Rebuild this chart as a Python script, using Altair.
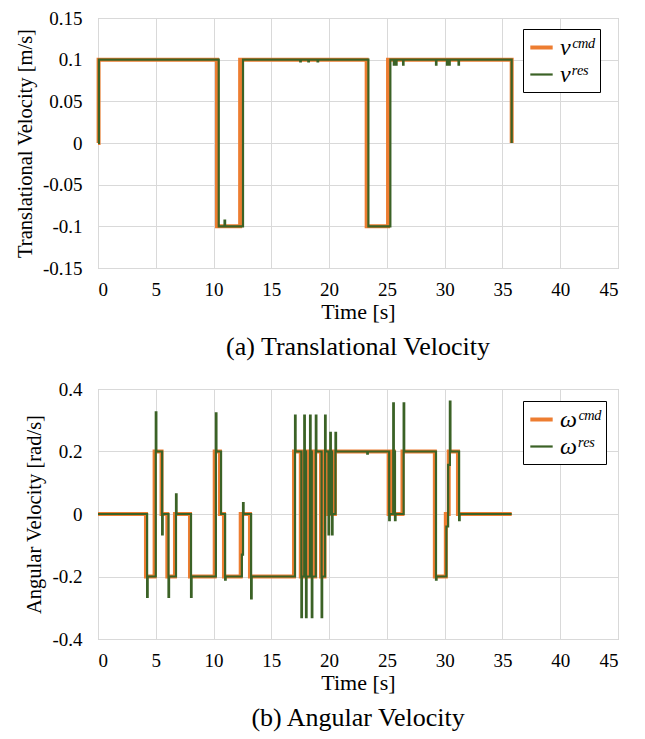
import altair as alt
import pandas as pd

# ---------- (a) Translational velocity ----------
v_cmd_t = [0, 0.05, 10.3, 12.3, 23.25, 25.1, 35.8]
v_cmd_v = [0, 0.1, -0.1, 0.1, -0.1, 0.1, 0]

v_res_t = [0, 0.08, 10.45, 10.95, 11.0, 12.55, 17.5, 17.55, 18.2, 18.25, 19.0, 19.05,
           23.4, 25.3, 25.6, 25.64, 25.8, 25.84, 26.4, 26.44, 29.25, 29.29, 30.2, 30.24,
           30.4, 30.44, 31.2, 31.24, 35.8]
v_res_v = [0, 0.1, -0.1, -0.093, -0.1, 0.1, 0.098, 0.1, 0.098, 0.1, 0.098, 0.1,
           -0.1, 0.1, 0.094, 0.1, 0.094, 0.1, 0.094, 0.1, 0.094, 0.1, 0.094, 0.1,
           0.094, 0.1, 0.094, 0.1, 0]

# ---------- (b) Angular velocity ----------
w_cmd_t = [0, 4.15, 4.9, 5.5, 6.0, 6.66, 7.96, 10.1, 10.55, 10.9, 12.35, 13.15, 16.96,
           17.55, 17.8, 17.95, 18.3, 18.45, 18.8, 19.3, 19.6, 19.9, 20.05, 20.2, 20.5,
           25.15, 25.45, 25.6, 26.35, 29.15, 30.1, 30.35, 31.15, 35.8]
w_cmd_v = [0, -0.2, 0.2, 0, -0.2, 0, -0.2, 0.2, 0, -0.2, 0, -0.2, 0.2,
           -0.2, 0.2, -0.2, 0.2, -0.2, 0.2, -0.2, 0.2, 0, 0.2, 0, 0.2,
           0, 0.2, 0, 0.2, -0.2, 0, 0.2, 0, 0]

w_res_t = [0, 4.25, 4.3, 5.0, 5.05, 5.55, 5.6, 6.1, 6.15, 6.75, 6.8, 8.05, 8.1,
           10.2, 10.25, 10.65, 11.0, 11.05, 12.45, 12.55, 12.6, 13.25, 13.3,
           17.05, 17.1, 17.6, 17.65, 17.85, 17.9, 18.0, 18.05, 18.35, 18.4, 18.5, 18.55,
           18.85, 18.9, 19.35, 19.4, 19.65, 19.7, 19.95, 20.0, 20.1, 20.15, 20.25, 20.3,
           20.55, 20.6, 23.3, 23.35, 25.2, 25.25, 25.55, 25.6, 25.7, 25.75, 26.45, 26.5,
           29.25, 29.3, 30.15, 30.3, 30.45, 30.5, 31.25, 31.3, 35.8]
w_res_v = [0, -0.265, -0.2, 0.325, 0.2, -0.065, 0, -0.265, -0.2, 0.063, 0, -0.265, -0.2,
           0.322, 0.2, 0, -0.21, -0.2, -0.13, 0.035, 0, -0.27, -0.2,
           0.315, 0.2, -0.33, -0.2, 0.315, 0.2, -0.33, -0.2, 0.315, 0.2, -0.33, -0.2,
           0.315, 0.2, -0.33, -0.2, 0.315, 0.2, -0.065, 0, 0.26, 0.2, -0.065, 0,
           0.26, 0.2, 0.193, 0.2, -0.02, 0, 0.354, 0.2, -0.02, 0, 0.354, 0.2,
           -0.21, -0.2, -0.04, 0.157, 0.36, 0.2, -0.02, 0, 0]

x_ticks = [0, 5, 10, 15, 20, 25, 30, 35, 40, 45]
v_ticks = [-0.15, -0.1, -0.05, 0, 0.05, 0.1, 0.15]
w_ticks = [-0.4, -0.2, 0, 0.2, 0.4]

ORANGE = "#ED7D31"
GREEN = "#3B6226"
FONT = "Liberation Serif"
LABEL_EXPR = "replace(format(datum.value, '~g'), '\u2212', '-')"


def panel(cmd_t, cmd_v, res_t, res_v, names, yticks, ytitle, ydom, caption, legend_y):
    cmd = pd.DataFrame({"t": cmd_t, "val": cmd_v, "series": names[0]})
    res = pd.DataFrame({"t": res_t, "val": res_v, "series": names[1]})
    x = alt.X("t:Q", scale=alt.Scale(domain=[0, 45], nice=False),
              axis=alt.Axis(values=x_ticks, title="Time [s]", format="d"))
    y = alt.Y("val:Q", scale=alt.Scale(domain=ydom, nice=False, zero=False),
              axis=alt.Axis(values=yticks, title=ytitle, labelExpr=LABEL_EXPR))
    color = alt.Color("series:N", scale=alt.Scale(domain=names, range=[ORANGE, GREEN]),
                      legend=alt.Legend(title=None, orient="none", legendX=425, legendY=legend_y,
                                        symbolType="stroke", symbolSize=500,
                                        labelFont=FONT, labelFontSize=24,
                                        labelFontStyle="italic", labelColor="black",
                                        strokeColor="black", fillColor="white",
                                        padding=5, rowPadding=2, labelOffset=5))
    sw = alt.StrokeWidth("series:N", scale=alt.Scale(domain=names, range=[4, 2.2]),
                         legend=None)
    l1 = alt.Chart(cmd).mark_line(interpolate="step-after").encode(x=x, y=y, color=color, strokeWidth=sw)
    l2 = alt.Chart(res).mark_line(interpolate="step-after").encode(x=x, y=y, color=color, strokeWidth=sw)
    return alt.layer(l1, l2).properties(
        width=520, height=250,
        title=alt.TitleParams(caption, orient="bottom", font=FONT, fontSize=26,
                              fontWeight="normal", color="black", offset=12, anchor="middle"))


top = panel(v_cmd_t, v_cmd_v, v_res_t, v_res_v, ["vᶜᵐᵈ", "vʳᵉˢ"], v_ticks,
            "Translational Velocity [m/s]", [-0.15, 0.15], "(a) Translational Velocity", 11)
bot = panel(w_cmd_t, w_cmd_v, w_res_t, w_res_v, ["ωᶜᵐᵈ", "ωʳᵉˢ"], w_ticks,
            "Angular Velocity [rad/s]", [-0.4, 0.4], "(b) Angular Velocity", 12)

chart = alt.vconcat(top, bot, spacing=18).resolve_scale(
    color="independent", strokeWidth="independent"
).properties(
    padding={"left": 6, "top": 0, "right": 5, "bottom": 0}
).configure_view(
    stroke="#BFBFBF", strokeWidth=1
).configure_axis(
    labelFont=FONT, labelFontSize=19, labelColor="black",
    titleFont=FONT, titleFontSize=22, titleFontWeight="normal", titleColor="black",
    grid=True, gridColor="#D9D9D9", gridWidth=1, ticks=False, domain=False,
).configure_axisX(labelPadding=12, titlePadding=2).configure_axisY(
    labelPadding=16, titlePadding=7, titleFontSize=20.5)

chart.save("out.html", embed_options={"renderer": "svg", "actions": False})
